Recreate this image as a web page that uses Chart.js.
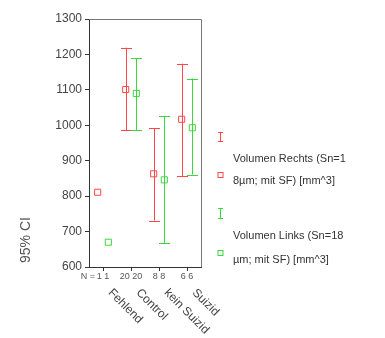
<!DOCTYPE html>
<html>
<head>
<meta charset="utf-8">
<script src="https://cdn.jsdelivr.net/npm/chart.js@4"></script>
<style>
    body { margin: 0; background: #fff; }
    canvas { display: block; }
</style>
</head>
<body>
<canvas id="ciChart" width="385" height="338"></canvas>
<script>
// Data
const categories = ['Fehlend', 'Control', 'kein Suizid', 'Suizid'];
const nCounts = ['1 1', '20 20', '8 8', '6 6'];
const rechtsMean = [811, 1101, 863, 1017];
const rechtsLow = [null, 986, 731, 856];
const rechtsHigh = [null, 1219, 992, 1174];
const linksMean = [670, 1090, 846, 993];
const linksLow = [null, 986, 668, 861];
const linksHigh = [null, 1189, 1025, 1132];
const yTicks = [600, 700, 800, 900, 1000, 1100, 1200, 1300];

const RED = 'rgb(255, 70, 70)';
const GREEN = 'rgb(60, 215, 60)';
const OFFSET = 0.19;

function toPoints(values, shift) {
    return values.map((v, i) => ({ x: i + shift, y: v }));
}

// Error bars + extra texts drawn around the chart
const extrasPlugin = {
    id: 'extras',
    beforeDatasetsDraw(chart) {
        const ctx = chart.ctx;
        const xs = chart.scales.x;
        const ys = chart.scales.y;
        const bars = [
            { low: rechtsLow, high: rechtsHigh, shift: -OFFSET, color: RED },
            { low: linksLow, high: linksHigh, shift: OFFSET, color: GREEN }
        ];
        ctx.save();
        ctx.lineWidth = 1;
        bars.forEach(b => {
            ctx.strokeStyle = b.color;
            b.low.forEach((lo, i) => {
                if (lo === null) return;
                const x = Math.round(xs.getPixelForValue(i + b.shift)) + 0.5;
                const y1 = ys.getPixelForValue(lo);
                const y2 = ys.getPixelForValue(b.high[i]);
                ctx.beginPath();
                ctx.moveTo(x, y1); ctx.lineTo(x, y2);
                ctx.moveTo(x - 5.5, Math.round(y1) + 0.5); ctx.lineTo(x + 5.5, Math.round(y1) + 0.5);
                ctx.moveTo(x - 5.5, Math.round(y2) + 0.5); ctx.lineTo(x + 5.5, Math.round(y2) + 0.5);
                ctx.stroke();
            });
        });
        ctx.restore();
    },
    afterDraw(chart) {
        const ctx = chart.ctx;
        const area = chart.chartArea;
        const xs = chart.scales.x;
        ctx.save();

        // frame top + right
        ctx.strokeStyle = '#777';
        ctx.lineWidth = 1;
        ctx.beginPath();
        ctx.moveTo(area.left, Math.round(area.top) + 0.5);
        ctx.lineTo(Math.round(area.right) + 0.5, Math.round(area.top) + 0.5);
        ctx.lineTo(Math.round(area.right) + 0.5, area.bottom);
        ctx.stroke();

        // N counts under axis
        ctx.fillStyle = '#555';
        ctx.font = '9px "Liberation Sans", Arial, sans-serif';
        ctx.textAlign = 'center';
        ctx.textBaseline = 'middle';
        nCounts.forEach((n, i) => {
            ctx.fillText(n, xs.getPixelForValue(i), area.bottom + 10);
        });
        ctx.textAlign = 'right';
        ctx.fillText('N =', xs.getPixelForValue(0) - 8, area.bottom + 10);

        // rotated category labels
        ctx.fillStyle = '#444';
        ctx.font = '12px "Liberation Sans", Arial, sans-serif';
        ctx.textAlign = 'left';
        ctx.textBaseline = 'middle';
        categories.forEach((c, i) => {
            ctx.save();
            ctx.translate(xs.getPixelForValue(i) + 7, area.bottom + 24);
            ctx.rotate(Math.PI / 4);
            ctx.fillText(c, 0, 0);
            ctx.restore();
        });

        // y axis title
        ctx.save();
        ctx.translate(26, 240);
        ctx.rotate(-Math.PI / 2);
        ctx.fillStyle = '#555';
        ctx.font = '14px "Liberation Sans", Arial, sans-serif';
        ctx.textAlign = 'center';
        ctx.fillText('95% CI', 0, 0);
        ctx.restore();

        // legend
        const legend = [
            { color: RED, barTop: 132, barBottom: 142, box: 175, lines: ['Volumen Rechts (Sn=1', '8µm; mit SF) [mm^3]'], textY: [159, 181] },
            { color: GREEN, barTop: 208, barBottom: 219, box: 253, lines: ['Volumen Links (Sn=18', 'µm; mit SF) [mm^3]'], textY: [236, 260] }
        ];
        legend.forEach(l => {
            const lx = 220.5;
            ctx.strokeStyle = l.color;
            ctx.beginPath();
            ctx.moveTo(lx, l.barTop); ctx.lineTo(lx, l.barBottom);
            ctx.moveTo(lx - 2.5, l.barTop + 0.5); ctx.lineTo(lx + 2.5, l.barTop + 0.5);
            ctx.moveTo(lx - 2.5, l.barBottom - 0.5); ctx.lineTo(lx + 2.5, l.barBottom - 0.5);
            ctx.stroke();
            ctx.strokeRect(lx - 2.5, l.box - 2.5, 5, 5);
            ctx.fillStyle = '#333';
            ctx.font = '11px "Liberation Sans", Arial, sans-serif';
            ctx.textAlign = 'left';
            ctx.textBaseline = 'middle';
            l.lines.forEach((t, k) => ctx.fillText(t, 233, l.textY[k]));
        });

        ctx.restore();
    }
};

const chart = new Chart(document.getElementById('ciChart'), {
    type: 'scatter',
    data: {
        datasets: [
            {
                label: 'Volumen Rechts',
                data: toPoints(rechtsMean, -OFFSET),
                borderColor: RED,
                backgroundColor: 'rgba(0,0,0,0)',
                pointStyle: 'rect',
                pointRadius: 4.3,
                borderWidth: 1
            },
            {
                label: 'Volumen Links',
                data: toPoints(linksMean, OFFSET),
                borderColor: GREEN,
                backgroundColor: 'rgba(0,0,0,0)',
                pointStyle: 'rect',
                pointRadius: 4.3,
                borderWidth: 1
            }
        ]
    },
    options: {
        responsive: false,
        animation: false,
        layout: { padding: { left: 40, top: 19, right: 184, bottom: 67 } },
        plugins: {
            legend: { display: false },
            tooltip: { enabled: false }
        },
        scales: {
            x: {
                type: 'linear',
                min: -0.5,
                max: 3.5,
                afterBuildTicks: s => { s.ticks = categories.map((c, i) => ({ value: i })); },
                afterFit: s => { s.height = 4; },
                ticks: { display: false },
                grid: { drawOnChartArea: false, tickLength: 4, color: '#333' },
                border: { color: '#333' }
            },
            y: {
                min: 600,
                max: 1300,
                afterBuildTicks: s => { s.ticks = yTicks.map(v => ({ value: v })); },
                afterFit: s => { s.width = 49; },
                ticks: {
                    color: '#444',
                    padding: 3,
                    callback: v => String(v),
                    font: { family: '"Liberation Sans", Arial, sans-serif', size: 12 }
                },
                grid: { drawOnChartArea: false, tickLength: 4, color: '#333' },
                border: { color: '#333' }
            }
        }
    },
    plugins: [extrasPlugin]
});
</script>
</body>
</html>
